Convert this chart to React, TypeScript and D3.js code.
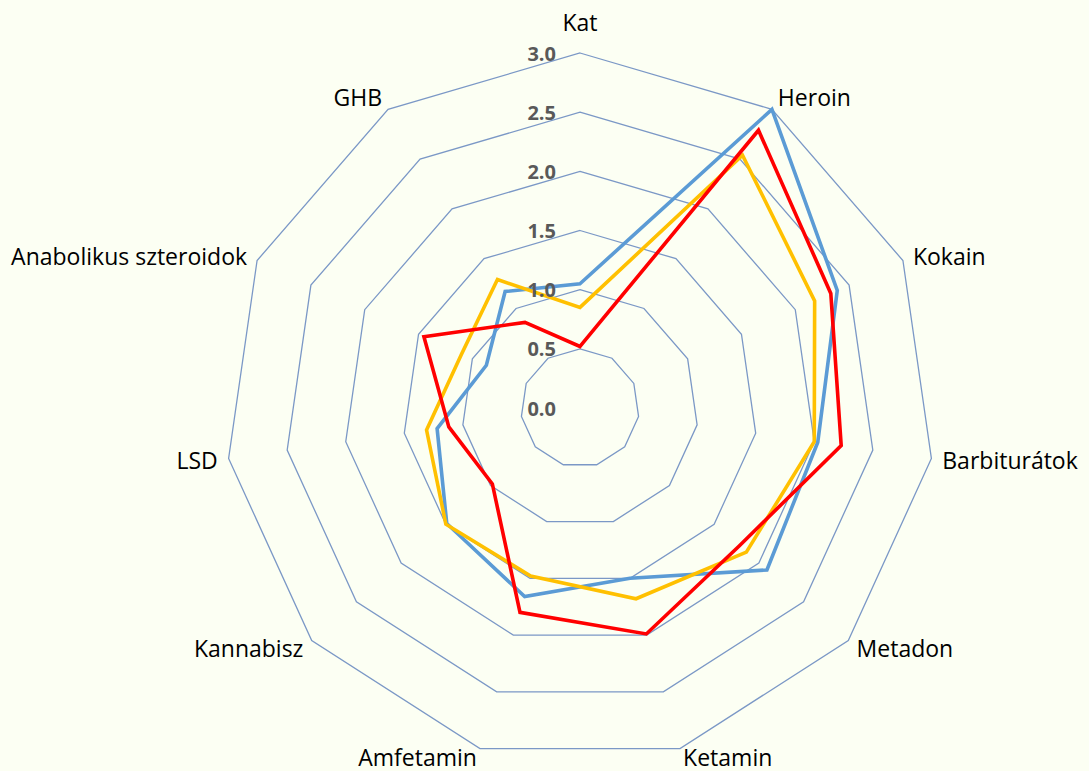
import * as d3 from "d3";

const categories = [
  "Kat",
  "Heroin",
  "Kokain",
  "Barbiturátok",
  "Metadon",
  "Ketamin",
  "Amfetamin",
  "Kannabisz",
  "LSD",
  "Anabolikus szteroidok",
  "GHB",
];

const blueValues = [1.05, 3.0, 2.39, 2.03, 2.09, 1.5, 1.66, 1.49, 1.22, 0.87, 1.17];
const redValues = [0.52, 2.79, 2.33, 2.23, 1.78, 1.99, 1.8, 0.98, 1.12, 1.45, 0.86];
const yellowValues = [0.85, 2.54, 2.18, 2.0, 1.86, 1.68, 1.48, 1.5, 1.31, 1.1, 1.29];

const ticks = [0, 0.5, 1.0, 1.5, 2.0, 2.5, 3.0];

const series = [
  { name: "blue", values: blueValues, color: "#5b9bd5" },
  { name: "yellow", values: yellowValues, color: "#ffc000" },
  { name: "red", values: redValues, color: "#ff0000" },
];

const W = 1089;
const H = 771;
const cx = 580;
const cy = 408;

export default function App() {
  const r = d3.scaleLinear().domain([0, 3]).range([0, 355]);
  const angle = d3
    .scaleLinear()
    .domain([0, categories.length])
    .range([0, 2 * Math.PI]);

  // closed polygon through the category axes
  const radial = d3
    .lineRadial<number>()
    .angle((_, i) => angle(i))
    .radius((d) => r(d))
    .curve(d3.curveLinearClosed);

  const pad = 11;

  return (
    <svg
      width={W}
      height={H}
      style={{ position: "absolute", left: 0, top: 0, display: "block" }}
    >
      <rect width={W} height={H} fill="#fcfff3" />
      <g transform={`translate(${cx},${cy})`}>
        {ticks
          .filter((t) => t > 0)
          .map((t) => (
            <path
              key={t}
              d={radial(categories.map(() => t)) || ""}
              fill="none"
              stroke="#7b98c6"
              strokeWidth={1.3}
            />
          ))}
        {series.map((s) => (
          <path
            key={s.name}
            d={radial(s.values) || ""}
            fill="none"
            stroke={s.color}
            strokeWidth={3.6}
            strokeLinejoin="miter"
          />
        ))}
        {ticks.map((t) => (
          <text
            key={t}
            x={-24}
            y={-r(t)}
            textAnchor="end"
            dominantBaseline="central"
            fontFamily="'Open Sans', sans-serif"
            fontWeight="bold"
            fontSize={20}
            fill="#595959"
          >
            {t.toFixed(1)}
          </text>
        ))}
        {categories.map((c, i) => {
          const a = angle(i);
          const sx = Math.sin(a);
          const cy2 = -Math.cos(a);
          const vx = sx * r(3);
          const vy = cy2 * r(3);
          const anchor = Math.abs(sx) < 0.1 ? "middle" : sx > 0 ? "start" : "end";
          let ly = vy + cy2 * pad;
          if (cy2 < -0.95) ly -= 20;
          if (cy2 < -0.8 && cy2 >= -0.95) ly -= 3;
          if (cy2 > 0.9) ly -= 2;
          return (
            <text
              key={c}
              x={vx + sx * pad}
              y={ly}
              textAnchor={anchor}
              dominantBaseline="central"
              fontFamily="'Open Sans', sans-serif"
              fontWeight={500}
              fontSize={23}
              fill="#000"
            >
              {c}
            </text>
          );
        })}
      </g>
    </svg>
  );
}
